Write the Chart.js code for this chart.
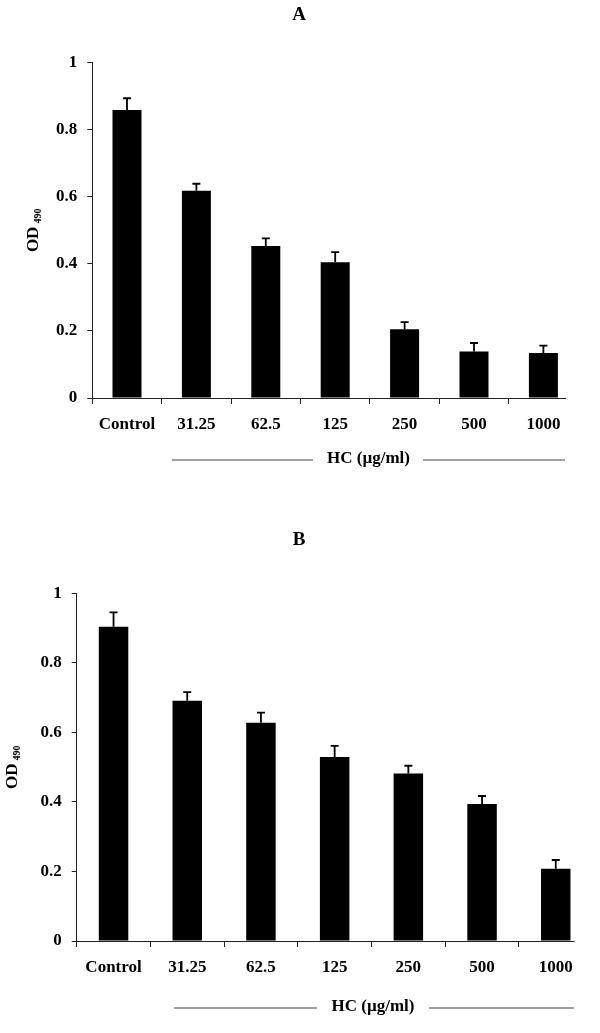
<!DOCTYPE html>
<html>
<head>
<meta charset="utf-8">
<script src="https://cdn.jsdelivr.net/npm/chart.js@4"></script>
<style>
  html, body { margin: 0; padding: 0; background: #fff; }
  .panel { position: absolute; left: 0; width: 600px; }
  #panelA { top: 0; height: 520px; }
  #panelB { top: 520px; height: 513px; }
</style>
</head>
<body>
<div class="panel" id="panelA"><canvas id="chartA"></canvas></div>
<div class="panel" id="panelB"><canvas id="chartB"></canvas></div>
<script>
// ===============================
// Data
// ===============================
const doses = ["Control", "31.25", "62.5", "125", "250", "500", "1000"];
const yTickLabels = ["0", "0.2", "0.4", "0.6", "0.8", "1"];

const odA  = [0.859, 0.618, 0.453, 0.405, 0.205, 0.139, 0.134];
const errA = [0.035, 0.021, 0.023, 0.030, 0.021, 0.025, 0.022];

const odB  = [0.904, 0.691, 0.628, 0.529, 0.482, 0.394, 0.208];
const errB = [0.041, 0.025, 0.029, 0.032, 0.022, 0.023, 0.025];

const serif = "'Liberation Serif', 'Times New Roman', serif";

// ===============================
// Plugins
// ===============================
// upper error bars with a small cap
const errorBars = {
  id: "errorBars",
  afterDatasetsDraw(chart, args, opts) {
    const ctx = chart.ctx;
    const y = chart.scales.y;
    const values = chart.data.datasets[0].data;
    ctx.save();
    ctx.strokeStyle = "#000";
    ctx.lineWidth = 1.8;
    chart.getDatasetMeta(0).data.forEach((bar, i) => {
      const top = y.getPixelForValue(values[i] + opts.errors[i]);
      ctx.beginPath();
      ctx.moveTo(bar.x, bar.y);
      ctx.lineTo(bar.x, top);
      ctx.moveTo(bar.x - 4, top);
      ctx.lineTo(bar.x + 4, top);
      ctx.stroke();
    });
    ctx.restore();
  }
};

// panel letter, x axis line (stops short like the original), OD490 title, HC label
const panelText = {
  id: "panelText",
  afterDraw(chart, args, opts) {
    const ctx = chart.ctx, area = chart.chartArea;
    ctx.save();
    ctx.strokeStyle = "#222";
    ctx.lineWidth = 1;
    ctx.beginPath();
    ctx.moveTo(area.left, Math.round(area.bottom) + 0.5);
    ctx.lineTo(area.right - opts.axisTrim, Math.round(area.bottom) + 0.5);
    ctx.stroke();

    ctx.fillStyle = "#000";
    ctx.font = "bold 19px " + serif;
    ctx.textAlign = "center";
    ctx.textBaseline = "middle";
    ctx.fillText(opts.letter, 299, opts.letterY);

    // HC label + side lines
    ctx.font = "bold 17px " + serif;
    ctx.fillText("HC (µg/ml)", opts.hcX, opts.hcY);
    ctx.strokeStyle = "#808080";
    ctx.lineWidth = 1.4;
    opts.hcLines.forEach(([a, b]) => {
      ctx.beginPath();
      ctx.moveTo(a, opts.hcY + 1);
      ctx.lineTo(b, opts.hcY + 1);
      ctx.stroke();
    });

    // rotated y title with subscript
    ctx.translate(opts.yTitleX, (area.top + area.bottom) / 2);
    ctx.rotate(-Math.PI / 2);
    ctx.textAlign = "left";
    ctx.textBaseline = "alphabetic";
    ctx.font = "bold 17px " + serif;
    const w1 = ctx.measureText("OD").width;
    ctx.font = "bold 10px " + serif;
    const w2 = ctx.measureText("490").width;
    const x0 = -(w1 + 3 + w2) / 2;
    ctx.font = "bold 17px " + serif;
    ctx.fillText("OD", x0, 6);
    ctx.font = "bold 10px " + serif;
    ctx.fillText("490", x0 + w1 + 3, 9);
    ctx.restore();
  }
};

// ===============================
// Chart builder
// ===============================
function makeChart(id, values, errors, cfg) {
  return new Chart(document.getElementById(id), {
    type: "bar",
    data: {
      labels: doses,
      datasets: [{
        data: values,
        backgroundColor: "#000",
        borderWidth: 0,
        categoryPercentage: 1,
        barPercentage: cfg.barPct
      }]
    },
    options: {
      responsive: true,
      maintainAspectRatio: false,
      animation: false,
      layout: { padding: cfg.padding },
      plugins: {
        legend: { display: false },
        tooltip: { enabled: false },
        errorBars: { errors: errors },
        panelText: cfg.text
      },
      scales: {
        x: {
          offset: true,
          afterFit(scale) { scale.height = 40; },
          border: { display: false },
          grid: {
            offset: true,
            drawOnChartArea: false,
            drawTicks: true,
            tickLength: 6,
            // the extra closing line (no tick context) stays hidden
            color: (c) => c.type === "tick" ? "#222" : "rgba(0,0,0,0)"
          },
          ticks: {
            color: "#000",
            padding: 10,
            maxRotation: 0,
            autoSkip: false,
            font: { family: serif, size: 17, weight: "bold" }
          }
        },
        y: {
          min: 0,
          max: 1,
          afterFit(scale) { scale.width = cfg.axisLeft; },
          border: { display: true, color: "#222", width: 1 },
          grid: {
            drawOnChartArea: false,
            drawTicks: true,
            tickLength: 5,
            color: "#222"
          },
          ticks: {
            stepSize: 0.2,
            color: "#000",
            padding: 10,
            font: { family: serif, size: 17, weight: "bold" },
            callback: (v, i) => yTickLabels[i]
          }
        }
      }
    },
    plugins: [errorBars, panelText]
  });
}

makeChart("chartA", odA, errA, {
  barPct: 0.418,
  axisLeft: 92.3,
  padding: { top: 62.7, right: 21.9, bottom: 82, left: 0 },
  text: {
    letter: "A", letterY: 15, yTitleX: 32, axisTrim: 12,
    hcX: 368.5, hcY: 459, hcLines: [[172, 313], [423, 565]]
  }
});

makeChart("chartB", odB, errB, {
  barPct: 0.40,
  axisLeft: 76.7,
  padding: { top: 73.3, right: 7.4, bottom: 52, left: 0 },
  text: {
    letter: "B", letterY: 20.5, yTitleX: 11, axisTrim: 18,
    hcX: 373, hcY: 487, hcLines: [[174, 317], [429, 574]]
  }
});
</script>
</body>
</html>
